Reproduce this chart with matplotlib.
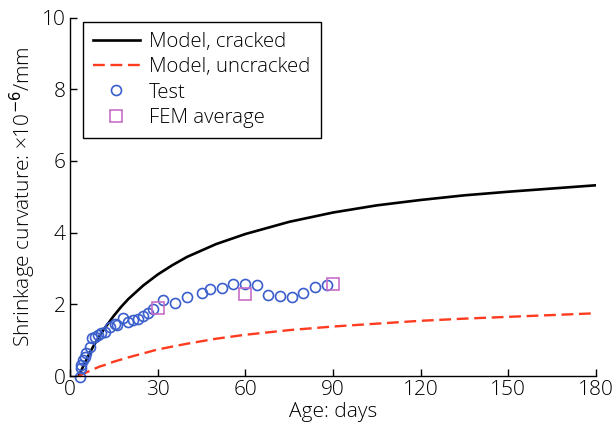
import matplotlib
matplotlib.use("Agg")
import matplotlib.pyplot as plt

plt.rcParams['font.family'] = ['Open Sans', 'DejaVu Sans']
plt.rcParams['mathtext.fontset'] = 'dejavusans'

# Model curves
model_days = [3, 4, 5, 6, 7, 8, 10, 12, 15, 17.5, 20, 25, 30, 35, 40, 50, 60, 75, 90, 105, 120, 135, 150, 165, 180]
cracked = [0, 0.18, 0.35, 0.52, 0.68, 0.83, 1.1, 1.35, 1.68, 1.93, 2.15, 2.52, 2.83, 3.09, 3.32, 3.68, 3.96,
           4.3, 4.56, 4.76, 4.91, 5.04, 5.14, 5.23, 5.32]
uncracked = [0, 0.04, 0.08, 0.115, 0.15, 0.185, 0.26, 0.31, 0.40, 0.46, 0.52, 0.63, 0.74, 0.82, 0.90, 1.04,
             1.15, 1.28, 1.38, 1.46, 1.54, 1.60, 1.65, 1.70, 1.75]

# Test data
test_days = [3.3, 3.7, 3.9, 4.4, 5.0, 5.6, 6.7, 7.5, 8.4, 9.6, 10.7, 12.0, 13.6, 15.3, 16.0,
             18.1, 19.8, 21.6, 23.3, 25.0, 26.7, 28.4, 31.9, 35.9, 39.9, 45.1, 47.9, 51.9,
             55.9, 59.9, 63.9, 67.9, 71.9, 75.9, 79.8, 83.8, 87.8]
test_vals = [-0.03, 0.22, 0.31, 0.45, 0.54, 0.63, 0.82, 1.05, 1.10, 1.14, 1.19, 1.24, 1.38, 1.44, 1.42,
             1.61, 1.52, 1.55, 1.60, 1.67, 1.75, 1.86, 2.12, 2.05, 2.21, 2.31, 2.42, 2.45,
             2.57, 2.57, 2.54, 2.26, 2.23, 2.19, 2.31, 2.47, 2.54]

# FEM average
fem_days = [30, 60, 90]
fem_vals = [1.90, 2.28, 2.56]

fig = plt.figure(figsize=(6.14, 4.30), dpi=100)
ax = fig.add_axes([70/614, 1-376/430, 526/614, 358.5/430])

ax.plot(model_days, cracked, color='black', lw=1.9, label='Model, cracked')
ax.plot(model_days, uncracked, color='#ff3b1f', lw=1.7, dashes=(5.0, 2.4), label='Model, uncracked')
ax.plot(test_days, test_vals, linestyle='none', marker='o', ms=7.2, mfc='none', mec='#3a5fcd',
        mew=1.2, label='Test', clip_on=False)
ax.plot(fem_days, fem_vals, linestyle='none', marker='s', ms=8.0, mfc='none', mec='#c86ec8',
        mew=1.2, label='FEM average', clip_on=False)

ax.set_xlim(0, 180)
ax.set_ylim(0, 10)
ax.set_xticks([0, 30, 60, 90, 120, 150, 180])
ax.set_yticks([0, 2, 4, 6, 8, 10])
for s in ['top', 'right']:
    ax.spines[s].set_visible(False)
for s in ['left', 'bottom']:
    ax.spines[s].set_linewidth(1.0)
ax.tick_params(direction='in', length=5, width=1, labelsize=15, pad=3)
for lab in ax.get_xticklabels() + ax.get_yticklabels():
    lab.set_fontweight(300)

ax.set_xlabel('Age: days', fontsize=15, labelpad=1, fontweight=300)
ax.set_ylabel('Shrinkage curvature: ×10$^{-6}$/mm', fontsize=15, labelpad=3, fontweight=300)

leg = ax.legend(loc='upper left', bbox_to_anchor=(12.7/526, 1-4.2/358.5), borderaxespad=0,
                prop={'size': 14.7, 'weight': 300}, frameon=True, fancybox=False, edgecolor='black',
                handlelength=2.3, handletextpad=0.45, labelspacing=0.26, borderpad=0.5)
leg.get_frame().set_linewidth(1.0)
leg.get_frame().set_alpha(1)

fig.savefig('out.png', dpi=100)
